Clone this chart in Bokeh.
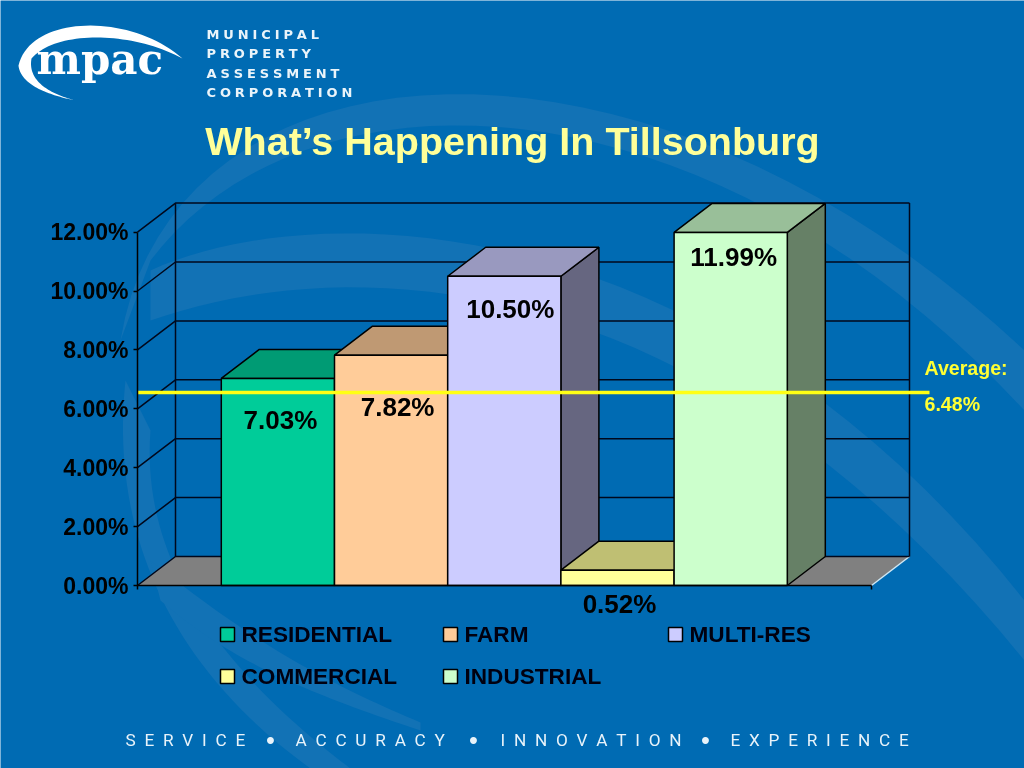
from bokeh.plotting import figure
from bokeh.embed import file_html
from bokeh.resources import INLINE
from bokeh.core.properties import value
from bokeh.models import Range1d, FixedTicker, PrintfTickFormatter, ColumnDataSource

# ---- data ----
categories = ["RESIDENTIAL", "FARM", "MULTI-RES", "COMMERCIAL", "INDUSTRIAL"]
values = [7.03, 7.82, 10.50, 0.52, 11.99]
average = 6.48
average_line_level = 6.55
y_ticks = [0, 2, 4, 6, 8, 10, 12]

# ---- styles ----
front_colors = ["#00CC99", "#FFCC99", "#CCCCFF", "#FFFF99", "#CCFFCC"]
top_colors = ["#009B74", "#BF9973", "#9999BF", "#BFBF73", "#99BF99"]
side_colors = ["#00664D", "#80664D", "#666680", "#80804D", "#668066"]
BG = "#006BB3"
BAND = "#1272B5"
LINE = "#00081C"
W, H = 1024, 768
PX_PER_X, PX_PER_Y = 113.2, 29.45
X0_PX, Y0_PX = 277.4, 585
DX, DY = 38 / PX_PER_X, 29 / PX_PER_Y
AX_L, AX_R = (137 - X0_PX) / PX_PER_X, (871 - X0_PX) / PX_PER_X
YMAX = 12

p = figure(width=W, height=H, output_backend="svg", toolbar_location=None,
           x_range=Range1d(-X0_PX / PX_PER_X, (W - X0_PX) / PX_PER_X),
           y_range=Range1d((Y0_PX - H) / PX_PER_Y, Y0_PX / PX_PER_Y),
           min_border=0, background_fill_color=BG, border_fill_color=BG,
           outline_line_color=None)
p.styles = {"position": "fixed", "left": "0", "top": "0"}
p.grid.visible = False
p.extra_x_ranges["px"] = Range1d(0, W)
p.extra_y_ranges["px"] = Range1d(H, 0)
PX = dict(x_range_name="px", y_range_name="px")


def bez(a, b, c, d, n=40):
    xs, ys = [], []
    for i in range(n + 1):
        t = i / n
        u = 1 - t
        xs.append(u**3 * a[0] + 3 * u * u * t * b[0] + 3 * u * t * t * c[0] + t**3 * d[0])
        ys.append(u**3 * a[1] + 3 * u * u * t * b[1] + 3 * u * t * t * c[1] + t**3 * d[1])
    return xs, ys


def shape(*curves):
    xs, ys = [], []
    for c in curves:
        x, y = bez(*c)
        xs += x
        ys += y
    return xs, ys


# background swooshes
bands = [
    [((120, 340), (170, 30), (640, -10), (1024, 350)), ((1024, 410), (700, 60), (300, 60), (150, 260))],
    [((150, 270), (300, 200), (700, 190), (1024, 600)), ((1024, 660), (700, 260), (350, 250), (150, 320))],
    [((125, 380), (110, 520), (160, 660), (310, 768)), ((350, 768), (220, 670), (140, 560), (150, 430))],
    [((160, 600), (230, 660), (300, 690), (420, 730)), ((420, 722), (320, 680), (250, 640), (150, 560))],
]
for b in bands:
    xs, ys = shape(*b)
    p.patch(xs, ys, fill_color=BAND, line_color=None, **PX)

# logo
xs, ys = shape(((182, 58), (130, 12), (30, 14), (18, 65)), ((18, 65), (20, 85), (50, 95), (75, 100)),
               ((75, 100), (48, 93), (27, 80), (31, 58)), ((31, 58), (55, 30), (130, 30), (182, 58)))
p.patch(xs, ys, fill_color="white", line_color=None, **PX)


def txt(x, y, s, size, color, font="Liberation Sans", style="bold", align="left", base="middle"):
    p.text([x], [y], text=[s], text_font=value(font), text_font_size=f"{size}px", text_font_style=style,
           text_color=color, text_align=align, text_baseline=base, **PX)


txt(36, 59, "mpac", 42, "white", font="DejaVu Serif")
thin = "\u2009\u200a"
for y, s in [(34, "MUNICIPAL"), (53, "PROPERTY"), (73, "ASSESSMENT"), (92, "CORPORATION")]:
    txt(206, y, thin.join(s), 13, "#EAF4FA", font="DejaVu Sans")
txt(512, 140, "What\u2019s Happening In Tillsonburg", 39.5, "#FFFF99", align="center")

# 3-D walls and floor (in data space)
p.patch([AX_L, AX_L + DX, AX_R + DX, AX_R], [0, DY, DY, 0], fill_color="#808080", line_color=None)
p.line([AX_R, AX_R + DX], [0, DY], line_color="#CFE8F5", line_width=1.5)
for t in y_ticks:
    p.line([AX_L, AX_L + DX, AX_R + DX], [t, t + DY, t + DY], line_color=LINE, line_width=1.5)
p.line([AX_L + DX, AX_L + DX], [DY, YMAX + DY], line_color=LINE, line_width=1.5)
p.line([AX_R + DX, AX_R + DX], [DY, YMAX + DY], line_color=LINE, line_width=1.5)

# bars
for i, v in enumerate(values):
    l, r = i - 0.5, i + 0.5
    p.patch([r, r + DX, r + DX, r], [0, DY, v + DY, v], fill_color=side_colors[i], line_color="black", line_width=1.5)
    p.patch([l, l + DX, r + DX, r], [v, v + DY, v + DY, v], fill_color=top_colors[i], line_color="black", line_width=1.5)
    p.quad(left=l, right=r, bottom=0, top=v, fill_color=front_colors[i], line_color="black", line_width=1.5)

# axes
ya = p.yaxis[0]
ya.fixed_location = AX_L
ya.ticker = FixedTicker(ticks=y_ticks)
ya.bounds = (0, YMAX)
ya.formatter = PrintfTickFormatter(format="%.2f%%")
ya.major_label_text_font = "Liberation Sans"
ya.major_label_text_font_size = "23px"
ya.major_label_text_font_style = "bold"
ya.major_label_text_color = "black"
ya.major_label_standoff = 5
ya.major_tick_out = 4
ya.major_tick_in = 0
ya.minor_tick_line_color = None
ya.axis_line_color = "black"
ya.axis_line_width = 1.5
ya.major_tick_line_color = "black"
ya.major_tick_line_width = 1.5

xa = p.xaxis[0]
xa.fixed_location = 0
xa.ticker = FixedTicker(ticks=[AX_L, AX_R])
xa.bounds = (AX_L, AX_R)
xa.major_label_overrides = {AX_L: "", AX_R: ""}
xa.major_tick_out = 4
xa.major_tick_in = 0
xa.minor_tick_line_color = None
xa.axis_line_color = "black"
xa.axis_line_width = 1.5
xa.major_tick_line_color = "black"
xa.major_tick_line_width = 1.5

# value labels: pixel offsets from each bar's centre and value
off_x = [2.5, 6.5, 6, 2, 3]
off_y = [42, 52, 33, 34, 25]
src = ColumnDataSource(dict(x=list(range(5)), y=values, t=[f"{v:.2f}%" for v in values],
                            xo=off_x, yo=off_y))
p.text("x", "y", text="t", x_offset="xo", y_offset="yo", source=src, text_align="center",
       text_baseline="middle", text_font=value("Liberation Sans"), text_font_style="bold",
       text_font_size="26px", text_color="black")

# average line and note
p.line([AX_L, (929 - X0_PX) / PX_PER_X], [average_line_level] * 2, line_color="#FFFF14", line_width=3.5)
txt(924, 367, "Average:", 19.6, "#FFFF33")
txt(924, 403, f"{average:.2f}%", 19.6, "#FFFF33")

# legend
leg_x = [220, 443, 668, 220, 443]
leg_y = [634, 634, 634, 676, 676]
for i, c in enumerate(categories):
    p.rect([leg_x[i] + 7], [leg_y[i]], width=14, height=14, fill_color=front_colors[i], line_color="black", line_width=1.5, **PX)
    txt(leg_x[i] + 21, leg_y[i], c, 22.6, "#000010")

# strapline
sp = "\u2002"
words = ["SERVICE", "ACCURACY", "INNOVATION", "EXPERIENCE"]
word_x = [125, 295, 500, 730]
bullet_x = [270, 473, 705]
for x, w in zip(word_x, words):
    txt(x, 739, sp.join(w), 17.2, "#E8F3FA", font="Roboto", style="normal")
for x in bullet_x:
    txt(x, 739, "\u2022", 24, "#E8F3FA", font="Liberation Sans", align="center")

open("out.html", "w").write(file_html(p, INLINE))
